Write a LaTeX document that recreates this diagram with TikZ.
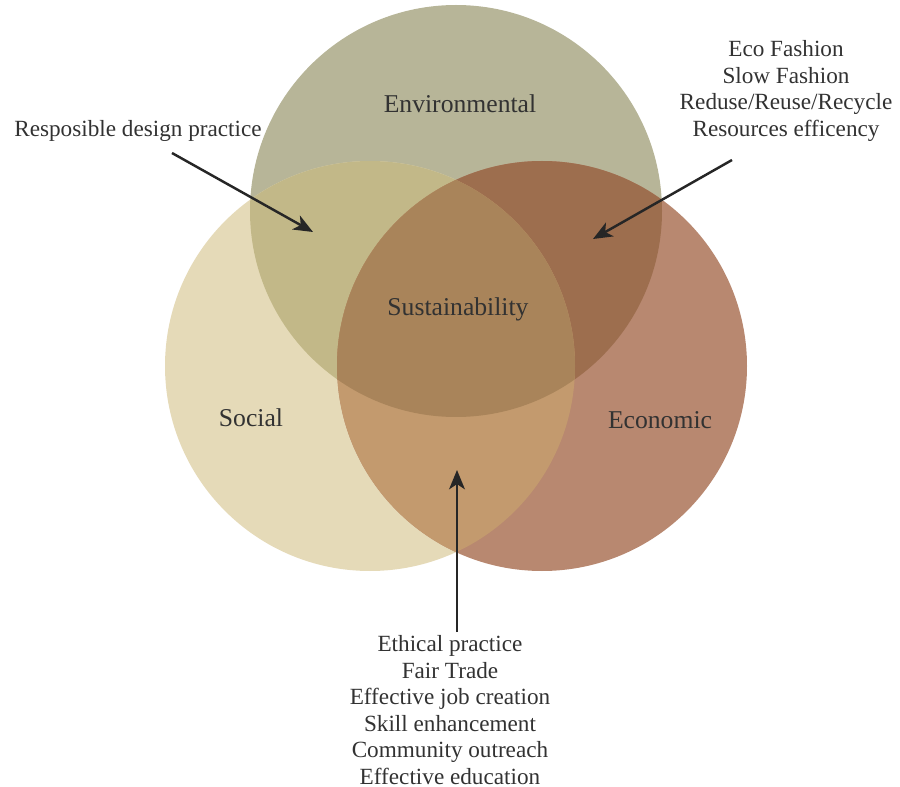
\documentclass[tikz,border=0pt]{standalone}
\usepackage{fontspec}
\setmainfont{Liberation Serif}
\usetikzlibrary{arrows.meta}
\definecolor{envcol}{RGB}{183,181,152}
\definecolor{soccol}{RGB}{229,218,184}
\definecolor{ecocol}{RGB}{184,136,112}
\definecolor{envsoccol}{RGB}{194,184,136}
\definecolor{envecocol}{RGB}{157,110,78}
\definecolor{sococecol}{RGB}{195,154,110}
\definecolor{allcol}{RGB}{169,132,90}
\definecolor{inkgray}{RGB}{50,50,50}
\newcommand\envset{(456,211) circle (206)}
\newcommand\socset{(370,366) circle (205)}
\newcommand\ecoset{(542,366) circle (205)}

\begin{document}
\begin{tikzpicture}[
    x=0.02cm, y=-0.02cm,
    setname/.style={text=inkgray, font=\fontsize{14.6}{17}\selectfont},
    note/.style={text=inkgray, align=center, font=\fontsize{13.2}{15.1}\selectfont},
    pointer/.style={-{Stealth[length=11pt, width=9pt, inset=3pt]}, line width=1.4pt, draw=black!85}]
    \useasboundingbox (0,0) rectangle (900,787);
    \fill[envcol] \envset;
    \fill[soccol] \socset;
    \fill[ecocol] \ecoset;
    \begin{scope} \clip \envset; \fill[envsoccol] \socset; \end{scope}
    \begin{scope} \clip \envset; \fill[envecocol] \ecoset; \end{scope}
    \begin{scope} \clip \socset; \fill[sococecol] \ecoset; \end{scope}
    \begin{scope} \clip \envset; \clip \socset; \fill[allcol] \ecoset; \end{scope}
    \node[setname] (env) at (460,104) {Environmental};
    \node[setname] (soc) at (251,418) {Social};
    \node[setname] (eco) at (660,420) {Economic};
    \node[setname] (sus) at (458,309) {Sustainability};
    \node[note] (resp) at (138,131) {Resposible design practice};
    \node[note] (green) at (786,91) {Eco Fashion\\Slow Fashion\\Reduse/Reuse/Recycle\\Resources efficency};
    \node[note] (ethic) at (450,710) {Ethical practice\\Fair Trade\\Effective job creation\\Skill enhancement\\Community outreach\\Effective education};
    \coordinate (envsoc) at (313,232);
    \coordinate (enveco) at (593,239);
    \coordinate (soceco) at (457,470);
    \draw[pointer] ([shift={(34,22)}]resp.center) -- (envsoc);
    \draw[pointer] ([shift={(-54,69)}]green.center) -- (enveco);
    \draw[pointer] ([shift={(7,-78)}]ethic.center) -- (soceco);
\end{tikzpicture}
\end{document}
